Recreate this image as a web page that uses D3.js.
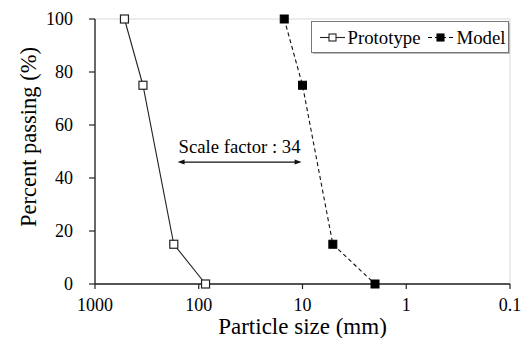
<!DOCTYPE html>
<html>
<head>
<meta charset="utf-8">
<script src="https://cdn.jsdelivr.net/npm/d3@7/dist/d3.min.js"></script>
</head>
<body style="margin:0">
<script>
// Grain-size distributions: prototype material vs. scaled model material
const prototypeSize = [520, 345, 174, 86];      // mm
const prototypePassing = [100, 75, 15, 0];       // %
const modelSize = [15, 10, 5.1, 2.0];            // mm
const modelPassing = [100, 75, 15, 0];           // %

const xTicks = [1000, 100, 10, 1, 0.1];
const xTickLabels = ["1000", "100", "10", "1", "0.1"];
const yTicks = [0, 20, 40, 60, 80, 100];
const seriesNames = ["Prototype", "Model"];
const scaleLabel = "Scale factor : 34";
const scaleArrowFrom = 160;   // mm
const scaleArrowTo = 10.2;    // mm
const scaleArrowLevel = 46;   // %

const W = 526, H = 338;
const margin = { left: 95, right: 16, top: 19, bottom: 54 };

const svg = d3.select("body").append("svg")
  .attr("width", W).attr("height", H);

const x = d3.scaleLog().domain([1000, 0.1]).range([margin.left, W - margin.right]);
const y = d3.scaleLinear().domain([0, 100]).range([H - margin.bottom, margin.top]);

// faint plot-area frame
svg.append("rect")
  .attr("x", x(1000)).attr("y", y(100))
  .attr("width", x(0.1) - x(1000)).attr("height", y(0) - y(100))
  .attr("fill", "none").attr("stroke", "#d9d9d9").attr("stroke-width", 1);

// axis lines and ticks from the scales
svg.append("line").attr("x1", x(1000)).attr("x2", x(0.1)).attr("y1", y(0)).attr("y2", y(0))
  .attr("stroke", "#222").attr("stroke-width", 1.3);
svg.append("line").attr("x1", x(1000)).attr("x2", x(1000)).attr("y1", y(0)).attr("y2", y(100))
  .attr("stroke", "#222").attr("stroke-width", 1.3);
svg.selectAll(".xt").data(xTicks).enter().append("line")
  .attr("x1", d => x(d)).attr("x2", d => x(d)).attr("y1", y(0)).attr("y2", y(0) + 5)
  .attr("stroke", "#222").attr("stroke-width", 1.2);
svg.selectAll(".yt").data(yTicks).enter().append("line")
  .attr("x1", x(1000) - 6).attr("x2", x(1000)).attr("y1", d => y(d)).attr("y2", d => y(d))
  .attr("stroke", "#222").attr("stroke-width", 1.2);

svg.selectAll(".xlab").data(xTicks).enter().append("text")
  .attr("font-family", "Liberation Serif").attr("font-size", 18)
  .attr("x", d => x(d)).attr("y", y(0) + 27)
  .attr("text-anchor", "middle")
  .text((d, i) => xTickLabels[i]);

svg.selectAll(".ylab").data(yTicks).enter().append("text")
  .attr("font-family", "Liberation Serif").attr("font-size", 18)
  .attr("x", x(1000) - 22).attr("y", d => y(d) + 6)
  .attr("text-anchor", "end")
  .text(d => d);

// axis titles
svg.append("text")
  .attr("font-family", "Liberation Serif").attr("font-size", 23)
  .attr("x", (x(1000) + x(0.1)) / 2).attr("y", 334)
  .attr("text-anchor", "middle")
  .text("Particle size (mm)");

svg.append("text")
  .attr("font-family", "Liberation Serif").attr("font-size", 22.5)
  .attr("transform", "translate(36,137) rotate(-90)")
  .attr("text-anchor", "middle")
  .text("Percent passing (%)");

// series lines
const line = d3.line().x(d => x(d[0])).y(d => y(d[1]));
const protoPts = prototypeSize.map((s, i) => [s, prototypePassing[i]]);
const modelPts = modelSize.map((s, i) => [s, modelPassing[i]]);

svg.append("path").datum(protoPts).attr("d", line)
  .attr("fill", "none").attr("stroke", "#222").attr("stroke-width", 1.1);
svg.append("path").datum(modelPts).attr("d", line)
  .attr("fill", "none").attr("stroke", "#111").attr("stroke-width", 1.1)
  .attr("stroke-dasharray", "4,3");

const ms = 8;
svg.selectAll(".pm").data(protoPts).enter().append("rect")
  .attr("x", d => x(d[0]) - ms / 2).attr("y", d => y(d[1]) - ms / 2)
  .attr("width", ms).attr("height", ms)
  .attr("fill", "#fff").attr("stroke", "#222").attr("stroke-width", 1.2);
svg.selectAll(".mm").data(modelPts).enter().append("rect")
  .attr("x", d => x(d[0]) - ms / 2).attr("y", d => y(d[1]) - ms / 2)
  .attr("width", ms).attr("height", ms)
  .attr("fill", "#000").attr("stroke", "#000").attr("stroke-width", 1);

// scale-factor double arrow with drawn heads
const ay = y(scaleArrowLevel);
const ax1 = x(scaleArrowFrom), ax2 = x(scaleArrowTo);
svg.append("line")
  .attr("x1", ax1 + 3).attr("x2", ax2 - 3)
  .attr("y1", ay).attr("y2", ay)
  .attr("stroke", "#111").attr("stroke-width", 1.3);
svg.append("path")
  .attr("d", `M${ax1},${ay} l7,-2.5 l0,5 Z M${ax2},${ay} l-7,-2.5 l0,5 Z`)
  .attr("fill", "#111");
svg.append("text")
  .attr("font-family", "Liberation Serif").attr("font-size", 18.7)
  .attr("x", (ax1 + ax2) / 2).attr("y", ay - 9)
  .attr("text-anchor", "middle")
  .text(scaleLabel);

// legend
svg.append("rect").attr("x", 313).attr("y", 23).attr("width", 197).attr("height", 31)
  .attr("fill", "#bbb");
svg.append("rect").attr("x", 311.5).attr("y", 21.5).attr("width", 197).attr("height", 31)
  .attr("fill", "#fff").attr("stroke", "#777").attr("stroke-width", 1);

const legendItems = [
  { name: seriesNames[0], x0: 320, tx: 347.5, fill: "#fff", stroke: "#222", dash: null },
  { name: seriesNames[1], x0: 428, tx: 456.5, fill: "#000", stroke: "#000", dash: "4,3" }
];
const ly = 37.5;
legendItems.forEach(it => {
  svg.append("line").attr("x1", it.x0).attr("x2", it.x0 + 25)
    .attr("y1", ly).attr("y2", ly)
    .attr("stroke", it.stroke).attr("stroke-width", 1.1)
    .attr("stroke-dasharray", it.dash);
  svg.append("rect").attr("x", it.x0 + 12.5 - 3.5).attr("y", ly - 3.5)
    .attr("width", 7).attr("height", 7)
    .attr("fill", it.fill).attr("stroke", it.stroke).attr("stroke-width", 1.1);
  svg.append("text")
    .attr("font-family", "Liberation Serif").attr("font-size", 18.8)
    .attr("x", it.tx).attr("y", 43.5)
    .text(it.name);
});
</script>
</body>
</html>
